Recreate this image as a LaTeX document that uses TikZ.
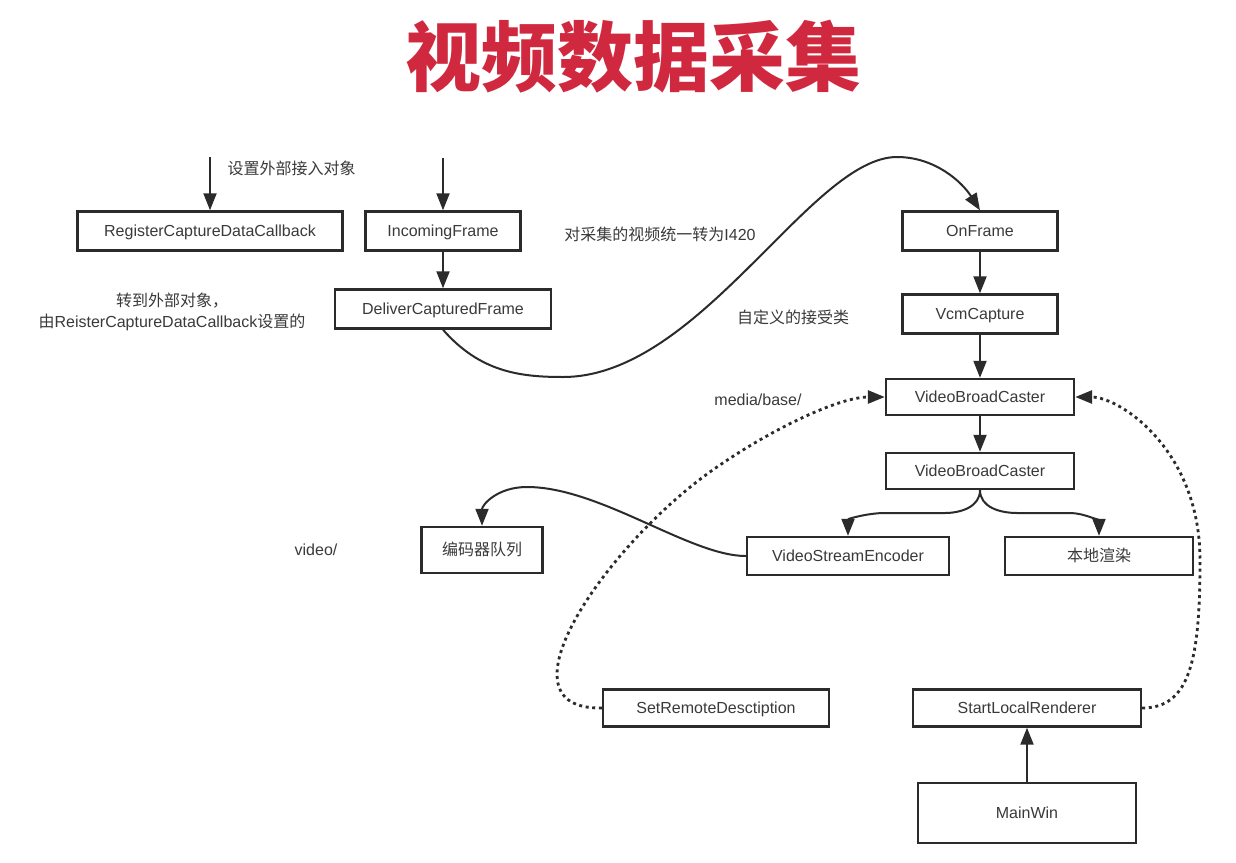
\documentclass[tikz,border=0pt]{standalone}
\usepackage{fontspec}
\setmainfont{Liberation Sans}
\newfontfamily\cjk{Noto Sans CJK SC}
\usepackage{xcolor}
\usepackage{tikz}
\usetikzlibrary{
	positioning,    % posizionamento dei nodi
	arrows.meta     % punte di freccia
}
\definecolor{titolo}{HTML}{D0283E}
\definecolor{linea}{HTML}{2B2B2B}
\definecolor{testo}{HTML}{3A3A3A}

\begin{document}
\begin{tikzpicture}[
	x=1pt, y=-1pt,
	blocco/.style={draw=linea, line width=2.4pt, text=testo, inner sep=2pt,
		font=\fontsize{16}{19}\selectfont, minimum height=39pt,
		text height=11.5pt, text depth=0.5pt},
	freccia/.style={-{Triangle[length=17pt,width=13pt]}, draw=linea, line width=2pt},
	puntini/.style={freccia, line width=2.8pt, dash pattern=on 3pt off 3.6pt},
	nota/.style={text=testo, font=\fontsize{16}{21}\selectfont}
	]
	
	% --- Sfondo ---
	\fill[white] (0,0) rectangle (1236,862);
	\useasboundingbox (0,0) rectangle (1236,862);
	
	% --- Titolo ---
	\node[text=titolo, font=\cjk\bfseries\fontsize{76}{80}\selectfont] (titolo) at (633,57) {视频数据采集};
	
	% --- Blocchi ---
	\node[blocco, minimum width=265pt] (reg) at (210,231) {RegisterCaptureDataCallback};
	\node[blocco, minimum width=155pt] (inc) at (443,231) {IncomingFrame};
	\node[blocco, minimum width=216pt] (deliver) at (443,309) {DeliverCapturedFrame};
	\node[blocco, minimum width=155pt] (onframe) at (980,231) {OnFrame};
	\node[blocco, minimum width=155pt] (vcm) at (980,314) {VcmCapture};
	\node[blocco, minimum width=188pt, minimum height=36pt] (vbc) at (980,397) {VideoBroadCaster};
	\node[blocco, minimum width=188pt, minimum height=36pt] (vbc2) at (980,471) {VideoBroadCaster};
	\node[blocco, minimum width=202pt, minimum height=38pt] (vse) at (848,556) {VideoStreamEncoder};
	\node[blocco, minimum width=188pt, minimum height=38pt] (render) at (1099,556) {\cjk 本地渲染};
	\node[blocco, minimum width=121pt, minimum height=46pt] (coda) at (482,550) {\cjk 编码器队列};
	\node[blocco, minimum width=226pt, minimum height=37pt] (srd) at (716,708) {SetRemoteDesctiption};
	\node[blocco, minimum width=228pt, minimum height=37pt] (slr) at (1027,708) {StartLocalRenderer};
	\node[blocco, minimum width=218pt, minimum height=60pt] (mainwin) at (1027,813) {MainWin};
	
	% --- Etichette ---
	\node[nota, anchor=west] (lblSet) at (224,168) {\cjk 设置外部接入对象};
	\node[nota] (lblI420) at (660,234) {{\cjk 对采集的视频统一转为}I420};
	\node[nota, align=center] (lblTurn) at (172,312) {{\cjk 转到外部对象，}\\{\cjk 由}ReisterCaptureDataCallback{\cjk 设置的}};
	\node[nota] (lblCustom) at (793,317) {\cjk 自定义的接受类};
	\node[nota] (lblMedia) at (758,400) {media/base/};
	\node[nota] (lblVideo) at (316,550) {video/};
	
	% --- Frecce dritte ---
	\coordinate (regIn) at (210,157);
	\coordinate (incIn) at (443,158);
	\draw[freccia] (regIn) -- (reg);
	\draw[freccia] (incIn) -- (inc);
	\draw[freccia] (inc) -- (deliver);
	\draw[freccia] (onframe) -- (vcm);
	\draw[freccia] (vcm) -- (vbc);
	\draw[freccia] (vbc) -- (vbc2);
	\draw[freccia] (mainwin) -- (slr);
	
	% --- Frecce curve ---
	\draw[freccia] (deliver.south) .. controls (480,372) and (520,377) .. (563,377)
		.. controls (700,377) and (811,157) .. (897,157)
		.. controls (935,157) and (962,182) .. (onframe.north);
	\draw[freccia] (vbc2.south) to[out=-90,in=0] (945,513) -- (885,513)
		to[out=180,in=90] (vse.north);
	\draw[freccia] (vbc2.south) to[out=-90,in=180] (1017,513) -- (1070,513)
		to[out=0,in=90] (render.north);
	\draw[freccia] (vse.west) .. controls (690,556) and (600,487) .. (527,487)
		.. controls (497,487) and (482,505) .. (coda.north);
	
	% --- Frecce tratteggiate ---
	\draw[puntini] (srd.west) .. controls (490,710) and (610,540) .. (717,467)
		.. controls (775,427) and (840,397) .. (vbc.west);
	\draw[puntini] (slr.east) .. controls (1190,708) and (1200,660) .. (1200,560)
		.. controls (1200,450) and (1120,397) .. (vbc.east);
	
\end{tikzpicture}
\end{document}
